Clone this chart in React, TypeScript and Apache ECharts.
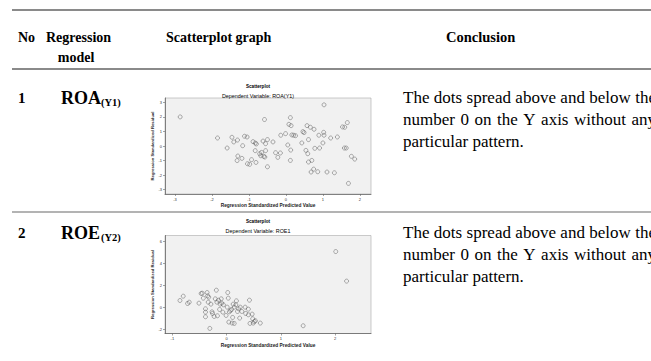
import React, { useEffect, useRef } from 'react';
import * as echarts from 'echarts';

// Scatterplot 1: ROA(Y1) — standardized predicted value vs standardized residual
const roaX = [-2.86, -1.85, -1.59, -1.46, -1.41, -1.31, -1.17, -1.12, -1.05, -1.30, -1.32, -1.19, -1.04, -0.98, -0.93, -0.89, -0.83, -0.83, -0.80, -0.81, -0.71, -0.68, -0.66, -0.60, -0.57, -0.62, -0.58, -0.55, -0.55, -0.50, -0.50, -0.35, -0.28, -0.22, -0.15, -0.14, -0.01, 0.05, 0.08, 0.12, 0.14, 0.13, 0.12, 0.16, 0.21, 0.26, 0.43, 0.46, 0.49, 0.54, 0.57, 0.59, 0.61, 0.61, 0.66, 0.70, 0.68, 0.75, 0.76, 0.78, 0.86, 0.89, 0.91, 1.00, 1.02, 1.03, 1.03, 1.11, 1.21, 1.31, 1.39, 1.53, 1.59, 1.58, 1.63, 1.66, 1.69, 1.77, 1.86];
const roaY = [2.0, 0.55, -0.14, 0.6, 0.28, 0.41, 0.02, 0.67, 0.62, -0.69, -1.0, -0.85, -1.22, -1.26, -0.94, 0.3, 0.2, -0.32, 0.14, -1.13, -0.53, -0.67, -0.44, -0.71, -0.76, 0.34, 1.82, 0.16, -0.32, 0.44, -1.43, 0.28, -0.46, -0.78, -0.48, 0.74, 0.85, 0.07, 1.49, 1.95, 1.40, -0.28, -0.99, 0.76, 0.74, 0.71, 0.21, 0.99, 0.92, -0.30, 1.40, -0.53, 0.44, -1.10, 1.29, -0.99, -1.79, -1.59, 1.15, -0.16, -1.77, 0.74, -0.14, 0.21, 0.94, 0.74, 2.83, -1.79, 0.55, -1.84, 0.62, 1.31, 1.29, -0.14, -0.14, 1.61, -2.57, -0.71, -0.90];

// Scatterplot 2: ROE1
const roeX = [-0.86, -0.80, -0.72, -0.69, -0.51, -0.47, -0.45, -0.43, -0.39, -0.39, -0.39, -0.36, -0.35, -0.34, -0.33, -0.31, -0.29, -0.27, -0.26, -0.23, -0.21, -0.19, -0.18, -0.17, -0.15, -0.13, -0.12, -0.10, -0.09, -0.07, -0.06, -0.01, 0.01, 0.02, 0.03, 0.04, 0.05, 0.07, 0.09, 0.10, 0.11, 0.12, 0.14, 0.14, 0.17, 0.18, 0.20, 0.22, 0.24, 0.25, 0.28, 0.34, 0.35, 0.40, 0.40, 0.42, 0.43, 0.47, 0.48, 0.49, 0.51, 0.53, 0.62, 1.41, 2.01, 2.21];
const roeY = [0.63, 1.02, 0.36, 0.48, 0.39, 1.26, 1.29, 0.84, -0.12, -0.42, -0.84, 1.35, 1.05, 0.48, 0.93, -1.89, 0.30, -0.39, -0.54, -0.81, 0.78, 1.56, 0.48, -0.75, 0.66, -0.18, 0.30, 0.78, 0.39, -0.42, 0.24, -0.72, 0.03, 1.35, 0.84, -1.32, -0.39, -0.27, -0.18, -1.41, -0.90, 0.30, 0.03, -1.44, 0.24, 0.60, -0.36, -0.12, -0.96, 0.03, -0.36, 0.03, -0.54, -0.15, -0.66, 0.66, -1.44, -0.60, -1.02, -1.41, -1.26, -1.20, -1.41, -1.65, 5.05, 2.38];

const roaXTicks = [-3, -2, -1, 0, 1, 2];
const roaYTicks = [-3, -2, -1, 0, 1, 2, 3];
const roeXTicks = [-1, 0, 1, 2];
const roeYTicks = [-2, 0, 2, 4, 6];

const headers = ['No', 'Regression', 'model', 'Scatterplot graph', 'Conclusion'];
const rowNumbers = ['1', '2'];
const rowModels = ['ROA', 'ROE'];
const rowSubs = ['(Y1)', '(Y2)'];
const chartDeps = ['Dependent Variable: ROA(Y1)', 'Dependent Variable: ROE1'];
const conclusionLines = ['The dots spread above and below the', 'number 0 on the Y axis without any', 'particular pattern.'];

const SERIF = '"Liberation Serif", "Times New Roman", serif';
const SANS = '"Liberation Sans", Arial, sans-serif';

function axisCommon(ticks: number[]) {
  return {
    axisLine: { show: true, onZero: false, lineStyle: { color: '#666', width: 0.8 } },
    axisTick: { show: true, length: 2, customValues: ticks, lineStyle: { color: '#666', width: 0.6 } },
    axisLabel: { fontSize: 4, color: '#333', margin: 3, fontFamily: SANS, customValues: ticks },
    splitLine: { show: false },
  };
}

export default function App() {
  const ref = useRef<HTMLDivElement>(null);
  useEffect(() => {
    document.body.style.margin = '0';
    const chart = echarts.init(ref.current!, null, { renderer: 'svg' });
    const roaData = roaX.map((x, i) => [x, roaY[i]]);
    const roeData = roeX.map((x, i) => [x, roeY[i]]);

    const canvas = document.createElement('canvas');
    const ctx = canvas.getContext('2d')!;

    const txt = (text: string, x: number, y: number, size: number, bold: boolean, align = 'left', family = SERIF) => ({
      type: 'text',
      x,
      y,
      silent: true,
      style: {
        text,
        fontSize: size,
        fontWeight: bold ? 'bold' : 'normal',
        fontFamily: family,
        fill: '#000',
        align,
        verticalAlign: 'middle',
      },
    });
    const hline = (y: number, color: string, w: number) => ({
      type: 'line',
      silent: true,
      shape: { x1: 12, y1: y, x2: 651, y2: y },
      style: { stroke: color, lineWidth: w },
    });

    const graphics: any[] = [
      hline(10, '#8a8a8a', 2),
      hline(69, '#8a8a8a', 2),
      hline(212, '#9a9a9a', 1.5),
      txt(headers[0], 18, 37, 14, true),
      txt(headers[1], 46, 37, 14, true),
      txt(headers[2], 76, 57, 14, true, 'center'),
      txt(headers[3], 166, 37, 14, true),
      txt(headers[4], 446, 37, 14.5, true),
    ];

    const bodySize = 17;
    ctx.font = `${bodySize}px "Liberation Serif"`;
    const justifyWidth = 253;
    const rowY = [98, 233];
    rowY.forEach((ry, r) => {
      graphics.push(txt(rowNumbers[r], 18, ry, 15, true));
      graphics.push(txt(rowModels[r], 61, ry, 18, true));
      graphics.push(txt(rowSubs[r], 101, ry + 4, 10.5, true));
      conclusionLines.forEach((line, k) => {
        const ly = ry - 1 + k * 22;
        if (k < conclusionLines.length - 1) {
          const words = line.split(' ');
          const widths = words.map((w) => ctx.measureText(w).width);
          const total = widths.reduce((a, b) => a + b, 0);
          const gap = (justifyWidth - total) / (words.length - 1);
          let x = 403;
          words.forEach((w, i) => {
            graphics.push(txt(w, x, ly, bodySize, false));
            x += widths[i] + gap;
          });
        } else {
          graphics.push(txt(line, 403, ly, bodySize, false));
        }
      });
    });
    const titleY = [86, 221];
    titleY.forEach((ty, r) => {
      graphics.push(txt('Scatterplot', 258, ty, 4.6, true, 'center', SANS));
      graphics.push(txt(chartDeps[r], 258, ty + 9.5, 5.4, false, 'center', SANS));
    });

    const option: any = {
      animation: false,
      backgroundColor: '#fff',
      grid: [
        { left: 165, top: 98, width: 206, height: 96, show: true, backgroundColor: '#f1f1f1', borderColor: '#aaa', borderWidth: 0.6 },
        { left: 165, top: 235.5, width: 206, height: 98, show: true, backgroundColor: '#f1f1f1', borderColor: '#aaa', borderWidth: 0.6 },
      ],
      xAxis: [
        {
          type: 'value', gridIndex: 0, min: -3.27, max: 2.3,
          name: 'Regression Standardized Predicted Value', nameLocation: 'middle', nameGap: 9,
          nameTextStyle: { fontSize: 4.8, fontWeight: 'bold', fontFamily: SANS, color: '#222' },
          ...axisCommon(roaXTicks),
        },
        {
          type: 'value', gridIndex: 1, min: -1.136, max: 2.66,
          name: 'Regression Standardized Predicted Value', nameLocation: 'middle', nameGap: 9,
          nameTextStyle: { fontSize: 4.8, fontWeight: 'bold', fontFamily: SANS, color: '#222' },
          ...axisCommon(roeXTicks),
        },
      ],
      yAxis: [
        {
          type: 'value', gridIndex: 0, min: -3.3, max: 3.3,
          name: 'Regression Standardized Residual', nameLocation: 'middle', nameGap: 11, nameRotate: 90,
          nameTextStyle: { fontSize: 4.2, fontWeight: 'bold', fontFamily: SANS, color: '#222' },
          ...axisCommon(roaYTicks),
        },
        {
          type: 'value', gridIndex: 1, min: -2.35, max: 6.5,
          name: 'Regression Standardized Residual', nameLocation: 'middle', nameGap: 11, nameRotate: 90,
          nameTextStyle: { fontSize: 4.2, fontWeight: 'bold', fontFamily: SANS, color: '#222' },
          ...axisCommon(roeYTicks),
        },
      ],
      series: [
        {
          type: 'scatter', xAxisIndex: 0, yAxisIndex: 0, data: roaData, symbol: 'circle', symbolSize: 4,
          itemStyle: { color: 'rgba(255,255,255,0)', borderColor: '#555', borderWidth: 0.6 },
        },
        {
          type: 'scatter', xAxisIndex: 1, yAxisIndex: 1, data: roeData, symbol: 'circle', symbolSize: 4,
          itemStyle: { color: 'rgba(255,255,255,0)', borderColor: '#555', borderWidth: 0.6 },
        },
      ],
      graphic: { elements: graphics },
    };
    chart.setOption(option);
    return () => chart.dispose();
  }, []);
  return <div ref={ref} style={{ width: 651, height: 361, background: '#fff' }} />;
}
